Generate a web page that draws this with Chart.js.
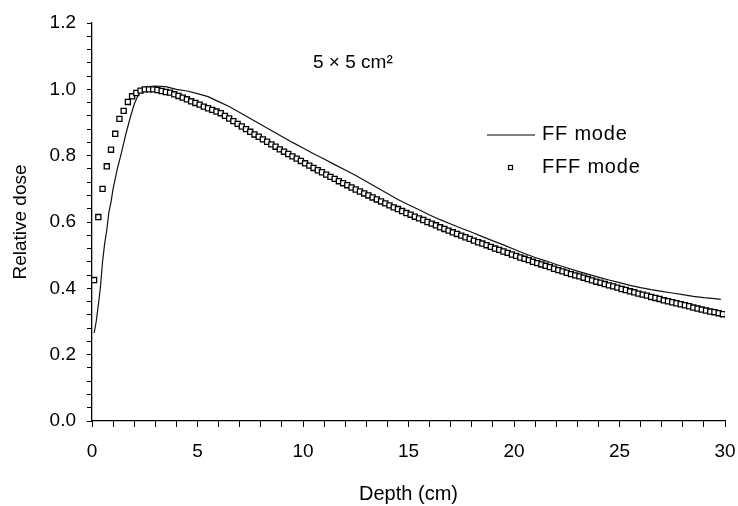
<!DOCTYPE html>
<html>
<head>
<meta charset="utf-8">
<script src="https://cdn.jsdelivr.net/npm/chart.js@4/dist/chart.umd.min.js"></script>
<style>
html,body{margin:0;padding:0;background:#fff;}
#wrap{width:738px;height:506px;position:relative;}
</style>
</head>
<body>
<div id="wrap"><canvas id="c" width="738" height="506"></canvas></div>
<script>
// ---- data ----
const ffDepth = [0.1,0.2,0.3,0.4,0.5,0.6,0.7,0.8,0.9,1.0,1.2,1.4,1.6,1.8,2.0,2.2,2.4,2.7,3.0,3.5,4.0,4.5,5.0,5.5,6.0,6.5,7.0,7.5,8.0,8.5,9.0,9.5,10.0,10.5,11.0,11.5,12.0,12.5,13.0,13.5,14.0,14.5,15.0,15.5,16.0,16.5,17.0,17.5,18.0,18.5,19.0,19.5,20.0,20.5,21.0,21.5,22.0,22.5,23.0,23.5,24.0,24.5,25.0,25.5,26.0,26.5,27.0,27.5,28.0,28.5,29.0,29.5,29.8];
const ffDose = [0.265,0.30,0.35,0.404,0.48,0.535,0.575,0.63,0.66,0.70,0.76,0.81,0.864,0.912,0.955,0.985,1.0,1.008,1.01,1.008,1.0,0.995,0.987,0.978,0.963,0.948,0.93,0.912,0.894,0.876,0.858,0.84,0.823,0.806,0.79,0.773,0.757,0.74,0.722,0.704,0.686,0.668,0.652,0.637,0.621,0.607,0.594,0.581,0.569,0.556,0.543,0.531,0.518,0.505,0.493,0.483,0.472,0.462,0.452,0.443,0.434,0.425,0.417,0.409,0.402,0.396,0.391,0.386,0.381,0.376,0.372,0.369,0.367];

const fffDepth = [0.1,0.3,0.5,0.7,0.9,1.1,1.3,1.5,1.7,1.9,2.1,2.3,2.5,2.7,2.9,3.1,3.3,3.5,3.7,3.9,4.1,4.3,4.5,4.7,4.9,5.1,5.3,5.5,5.7,5.9,
6.1,6.3,6.5,6.7,6.9,7.1,7.3,7.5,7.7,7.9,8.1,8.3,8.5,8.7,8.9,9.1,9.3,9.5,9.7,9.9,
10.1,10.3,10.5,10.7,10.9,11.1,11.3,11.5,11.7,11.9,12.1,12.3,12.5,12.7,12.9,13.1,13.3,13.5,13.7,13.9,
14.1,14.3,14.5,14.7,14.9,15.1,15.3,15.5,15.7,15.9,16.1,16.3,16.5,16.7,16.9,17.1,17.3,17.5,17.7,17.9,
18.1,18.3,18.5,18.7,18.9,19.1,19.3,19.5,19.7,19.9,20.1,20.3,20.5,20.7,20.9,21.1,21.3,21.5,21.7,21.9,
22.1,22.3,22.5,22.7,22.9,23.1,23.3,23.5,23.7,23.9,24.1,24.3,24.5,24.7,24.9,25.1,25.3,25.5,25.7,25.9,
26.1,26.3,26.5,26.7,26.9,27.1,27.3,27.5,27.7,27.9,28.1,28.3,28.5,28.7,28.9,29.1,29.3,29.5,29.7,29.9];
const fffDose = [0.425,0.615,0.70,0.768,0.818,0.866,0.911,0.935,0.962,0.979,0.989,0.996,1.0,1.0,1.0,0.998,0.995,0.992,0.99,0.985,0.98,0.975,0.97,0.964,0.959,0.954,0.948,0.943,0.938,0.933,
0.928,0.920,0.912,0.904,0.896,0.888,0.880,0.872,0.864,0.857,0.849,0.842,0.834,0.827,0.819,0.812,0.805,0.798,0.791,0.784,
0.777,0.770,0.763,0.756,0.750,0.743,0.736,0.730,0.723,0.717,0.711,0.704,0.698,0.692,0.686,0.680,0.674,0.668,0.662,0.656,
0.650,0.644,0.639,0.633,0.627,0.622,0.616,0.611,0.606,0.600,0.595,0.590,0.584,0.579,0.574,0.569,0.564,0.559,0.554,0.549,
0.544,0.539,0.535,0.530,0.525,0.520,0.516,0.511,0.507,0.502,0.498,0.493,0.489,0.485,0.480,0.476,0.472,0.468,0.464,0.459,
0.455,0.451,0.447,0.443,0.439,0.436,0.432,0.428,0.424,0.420,0.417,0.413,0.409,0.406,0.402,0.398,0.395,0.391,0.388,0.384,
0.381,0.378,0.374,0.371,0.368,0.364,0.361,0.358,0.355,0.352,0.349,0.346,0.342,0.339,0.336,0.333,0.330,0.328,0.325,0.322];

const seriesNames = ['FF mode','FFF mode'];
const fieldLabel = '5 × 5 cm²';
const xTitle = 'Depth (cm)';
const yTitle = 'Relative dose';

const FONT = '"Liberation Sans", Arial, sans-serif';

const ffData = ffDepth.map((d,i)=>({x:d,y:ffDose[i]}));
const fffData = fffDepth.map((d,i)=>({x:d,y:fffDose[i]}));

const annotate = {
  id:'annotate',
  afterDraw(chart){
    const ctx = chart.ctx;
    const a = chart.chartArea;
    ctx.save();
    ctx.fillStyle = '#000';
    ctx.strokeStyle = '#000';
    ctx.textBaseline = 'middle';
    ctx.textAlign = 'left';
    // field size label
    ctx.font = '19px ' + FONT;
    ctx.fillText(fieldLabel, a.left + 221, a.top + 40);
    // legend
    ctx.font = '20px ' + FONT;
    if ('letterSpacing' in ctx) ctx.letterSpacing = '0.8px';
    const lx = a.left + 395, ly = a.top + 112;
    ctx.lineWidth = 1.2;
    ctx.beginPath(); ctx.moveTo(lx, ly); ctx.lineTo(lx + 48, ly); ctx.stroke();
    ctx.fillText(seriesNames[0], lx + 55, ly - 1);
    ctx.lineWidth = 1.2;
    ctx.strokeRect(lx + 21.5, ly + 30.5, 4, 4);
    ctx.fillText(seriesNames[1], lx + 55, ly + 32);
    ctx.restore();
  }
};

new Chart(document.getElementById('c'), {
  type:'scatter',
  data:{
    datasets:[
      {label:seriesNames[0], data:ffData, showLine:true, borderColor:'#111', borderWidth:1.2, pointRadius:0, tension:0, order:2},
      {label:seriesNames[1], data:fffData, showLine:false, pointStyle:'rect', pointRadius:3.6, borderColor:'#000', backgroundColor:'#fff', pointBorderWidth:1.3, order:1}
    ]
  },
  options:{
    responsive:false,
    animation:false,
    layout:{padding:{top:23,right:0,bottom:0,left:0}},
    plugins:{legend:{display:false}, tooltip:{enabled:false}},
    scales:{
      x:{
        type:'linear', min:0, max:30,
        afterFit(s){ s.height = 85; s.paddingRight = 13; },
        ticks:{stepSize:1, autoSkip:false, maxRotation:0, color:'#000', padding:13,
          font:{family:FONT,size:19},
          callback:(v)=> (Math.round(v)%5===0 ? String(Math.round(v)) : '')},
        grid:{drawOnChartArea:false, drawTicks:true, tickLength:6, color:'#000', lineWidth:1},
        border:{color:'#000', width:1.3},
        title:{display:true, text:xTitle, color:'#000', font:{family:FONT,size:20}, padding:{top:0,bottom:0}}
      },
      y:{
        min:0, max:1.2,
        afterFit(s){ s.width = 92; },
        ticks:{stepSize:0.04, autoSkip:false, color:'#000', padding:11,
          font:{family:FONT,size:19},
          callback:(v)=>{ const r=Math.round(v*100); return r%20===0 ? (r/100).toFixed(1) : ''; }},
        grid:{drawOnChartArea:false, drawTicks:true, tickLength:5, color:'#000', lineWidth:1},
        border:{color:'#000', width:1.3},
        title:{display:true, text:yTitle, color:'#000', font:{family:FONT,size:19}, padding:{top:9,bottom:0}}
      }
    }
  },
  plugins:[annotate]
});
</script>
</body>
</html>
